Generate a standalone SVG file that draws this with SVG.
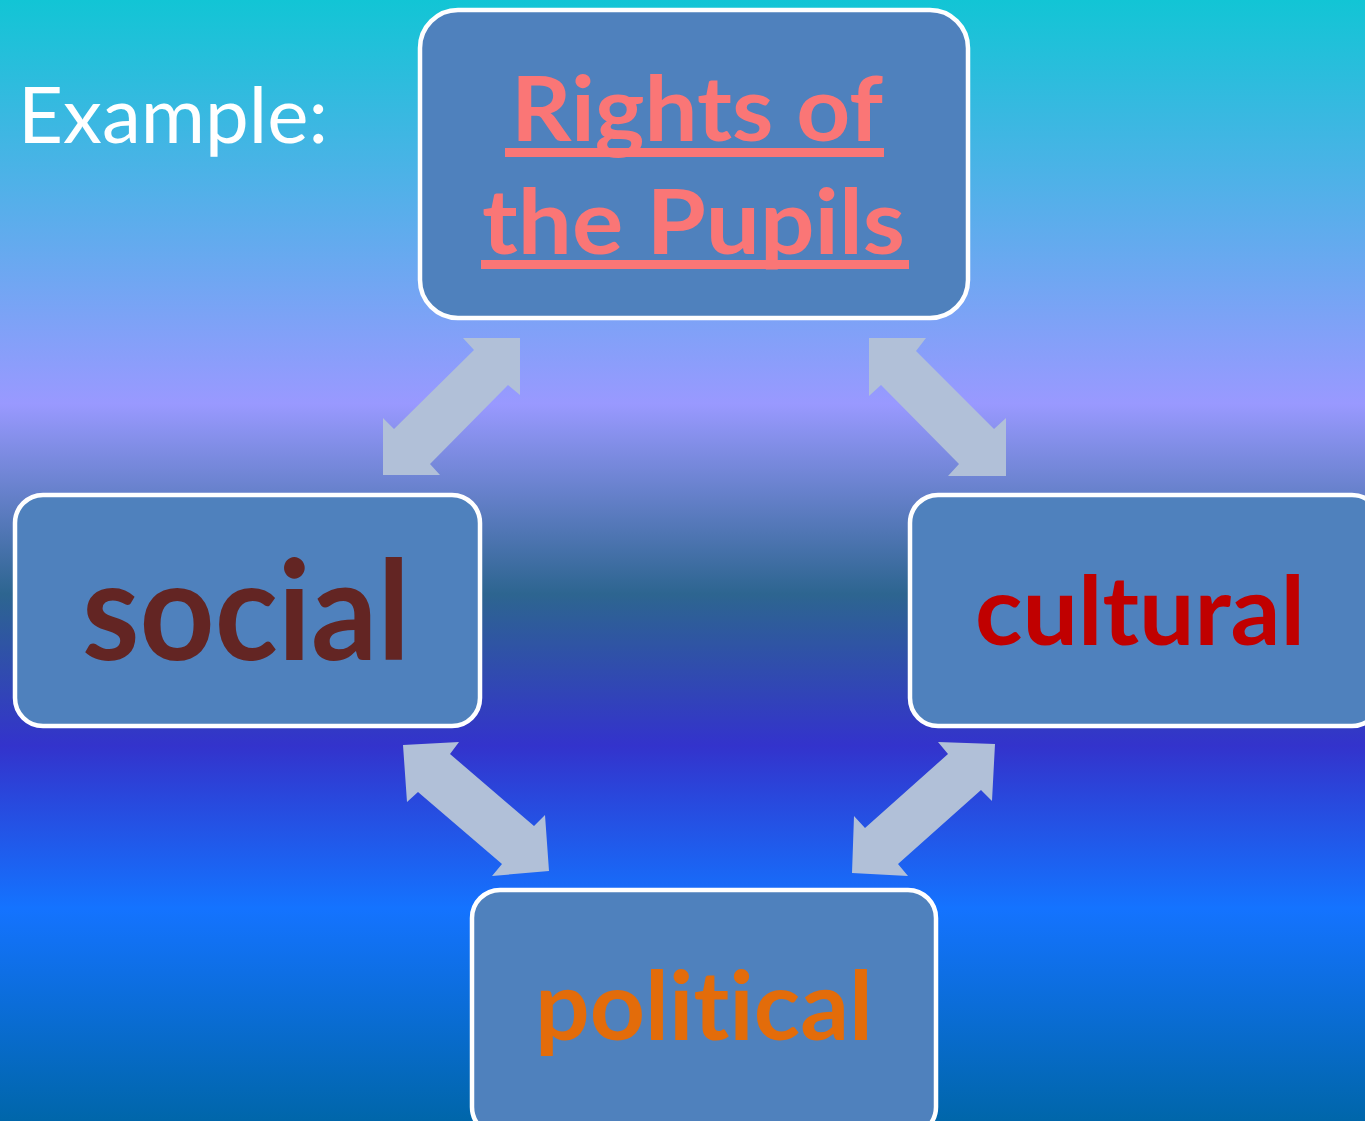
<svg xmlns="http://www.w3.org/2000/svg" width="1365" height="1121" viewBox="0 0 1365 1121">
<defs>
<linearGradient id="bg" x1="0" y1="0" x2="0" y2="1121" gradientUnits="userSpaceOnUse">
<stop offset="0" stop-color="#12c5d5"/>
<stop offset="0.36" stop-color="#9999ff"/>
<stop offset="0.53" stop-color="#2d6590"/>
<stop offset="0.665" stop-color="#3333cc"/>
<stop offset="0.81" stop-color="#1473ff"/>
<stop offset="1" stop-color="#0066aa"/>
</linearGradient>
<style>
.box{fill:#4f81bd;stroke:#ffffff;stroke-width:4.5}
.arrow{fill:#b1c0d8}
.t{font-family:Lato,"Open Sans","Liberation Sans",sans-serif;font-weight:bold;font-variant-ligatures:none;font-feature-settings:"liga" 0,"clig" 0}
</style>
</defs>
<rect x="0" y="0" width="1365" height="1121" fill="url(#bg)"/>
<text x="18" y="143" font-family="Lato,'Open Sans','Liberation Sans',sans-serif" font-size="78" fill="#ffffff" textLength="310" lengthAdjust="spacingAndGlyphs">Example:</text>
<g id="connectors">
<polygon class="arrow" points="520,338 520,395 508,385 430,464 440,475 383,475 383,418 394,429 474,350 463,338"/>
<polygon class="arrow" points="869,338 926,338 916,351 994,429 1006,418 1006,476 948,476 959,464 881,385 869,396"/>
<polygon class="arrow" points="403,745 459,742 450,754 534,826 545,815 549,871 492,876 502,864 418,792 407,802"/>
<polygon class="arrow" points="995,744 992,801 981,790 898,864 908,876 852,873 854,816 865,828 948,754 938,742"/>
</g>
<g id="rights">
<rect class="box" x="420" y="10" width="548" height="308" rx="38"/>
<text class="t" x="511" y="141" font-size="90" fill="#fa7676" textLength="372" lengthAdjust="spacingAndGlyphs">Rights of</text>
<rect x="505" y="148" width="379" height="9" fill="#fa7676"/>
<text class="t" x="482" y="254" font-size="90" fill="#fa7676" textLength="423" lengthAdjust="spacingAndGlyphs">the Pupils</text>
<rect x="481" y="260" width="428" height="9" fill="#fa7676"/>
</g>
<g id="social">
<rect class="box" x="15" y="495" width="465" height="231" rx="28"/>
<text class="t" x="82" y="660" font-size="138" fill="#632523" textLength="328" lengthAdjust="spacingAndGlyphs">social</text>
</g>
<g id="cultural">
<rect class="box" x="910" y="495" width="470" height="231" rx="28"/>
<text class="t" x="975" y="645" font-size="96" fill="#c00000" textLength="330" lengthAdjust="spacingAndGlyphs">cultural</text>
</g>
<g id="political">
<rect class="box" x="472" y="890" width="464" height="245" rx="28"/>
<text class="t" x="535" y="1040" font-size="96" fill="#e36c0a" textLength="338" lengthAdjust="spacingAndGlyphs">political</text>
</g>
</svg>
